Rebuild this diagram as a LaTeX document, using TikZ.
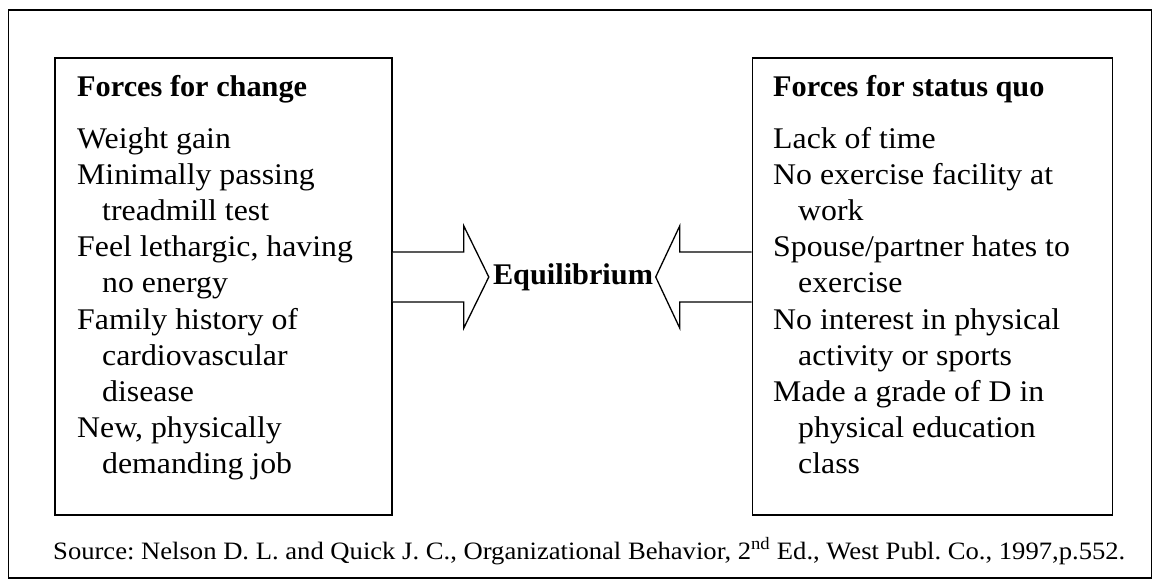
\documentclass[tikz,border=0pt]{standalone}
\usepackage{fontspec}
\setmainfont{Liberation Serif}
\newfontfamily\pala[FakeStretch=1.06]{Liberation Serif}
\newfontfamily\palab[FakeStretch=1.01]{Liberation Serif Bold}
\newfontfamily\srcfont[FakeStretch=1.065]{Liberation Serif}
\begin{document}
\frenchspacing
\begin{tikzpicture}[x=1pt,y=-1pt,
  frame/.style={draw, line width=1.6pt, inner sep=0pt, rectangle},
  body/.style={anchor=base west, inner sep=0pt, font=\pala\fontsize{30}{36}\selectfont},
  head/.style={anchor=base west, inner sep=0pt, font=\palab\fontsize{30}{36}\selectfont},
  arrowshape/.style={draw, line width=1.3pt, fill=white, line join=miter}]
\useasboundingbox (0,0) rectangle (1155,581);
\node[frame, minimum width=1143pt, minimum height=568pt] (outer) at (580,294) {};
\node[frame, minimum width=337pt, minimum height=457pt] (lbox) at (223.5,286.5) {};
\node[frame, minimum width=360pt, minimum height=457pt] (rbox) at (932.5,286.5) {};
% left column
\node[head] (lh) at (77,96) {Forces for change};
\node[body] (l1) at (77,148) {Weight gain};
\node[body] (l2) at (77,184.2) {Minimally passing};
\node[body] (l3) at (102,220.4) {treadmill test};
\node[body] (l4) at (77,256.6) {Feel lethargic, having};
\node[body] (l5) at (102,292.8) {no energy};
\node[body] (l6) at (77,329) {Family history of};
\node[body] (l7) at (102,365.2) {cardiovascular};
\node[body] (l8) at (102,401.4) {disease};
\node[body] (l9) at (77,437.6) {New, physically};
\node[body] (l10) at (102,473.8) {demanding job};
% right column
\node[head] (rh) at (773,96) {Forces for status quo};
\node[body] (r1) at (773,148) {Lack of time};
\node[body] (r2) at (773,184.2) {No exercise facility at};
\node[body] (r3) at (798,220.4) {work};
\node[body] (r4) at (773,256.6) {Spouse/partner hates to};
\node[body] (r5) at (798,292.8) {exercise};
\node[body] (r6) at (773,329) {No interest in physical};
\node[body] (r7) at (798,365.2) {activity or sports};
\node[body] (r8) at (773,401.4) {Made a grade of D in};
\node[body] (r9) at (798,437.6) {physical education};
\node[body] (r10) at (798,473.8) {class};
% arrows
\coordinate (la) at (lbox.east |- 0,277);
\coordinate (ra) at (rbox.west |- 0,277);
\draw[arrowshape] (la) ++(0,-25) -- ++(71,0) -- ++(0,-26) -- ++(25,51) -- ++(-25,51) -- ++(0,-26) -- ++(-71,0);
\draw[arrowshape] (ra) ++(0,-25) -- ++(-72,0) -- ++(0,-26) -- ++(-24,51) -- ++(24,51) -- ++(0,-26) -- ++(72,0);
\node[font=\palab\fontsize{30}{36}\selectfont, inner sep=0pt] (eq) at (573,277) {Equilibrium};
% source
\node[anchor=base west, inner sep=0pt, font=\srcfont\fontsize{25}{30}\selectfont] (src) at (53,559) {Source: Nelson D. L. and Quick J. C., Organizational Behavior, 2\textsuperscript{nd} Ed., West Publ. Co., 1997,p.552.};
\end{tikzpicture}
\end{document}
